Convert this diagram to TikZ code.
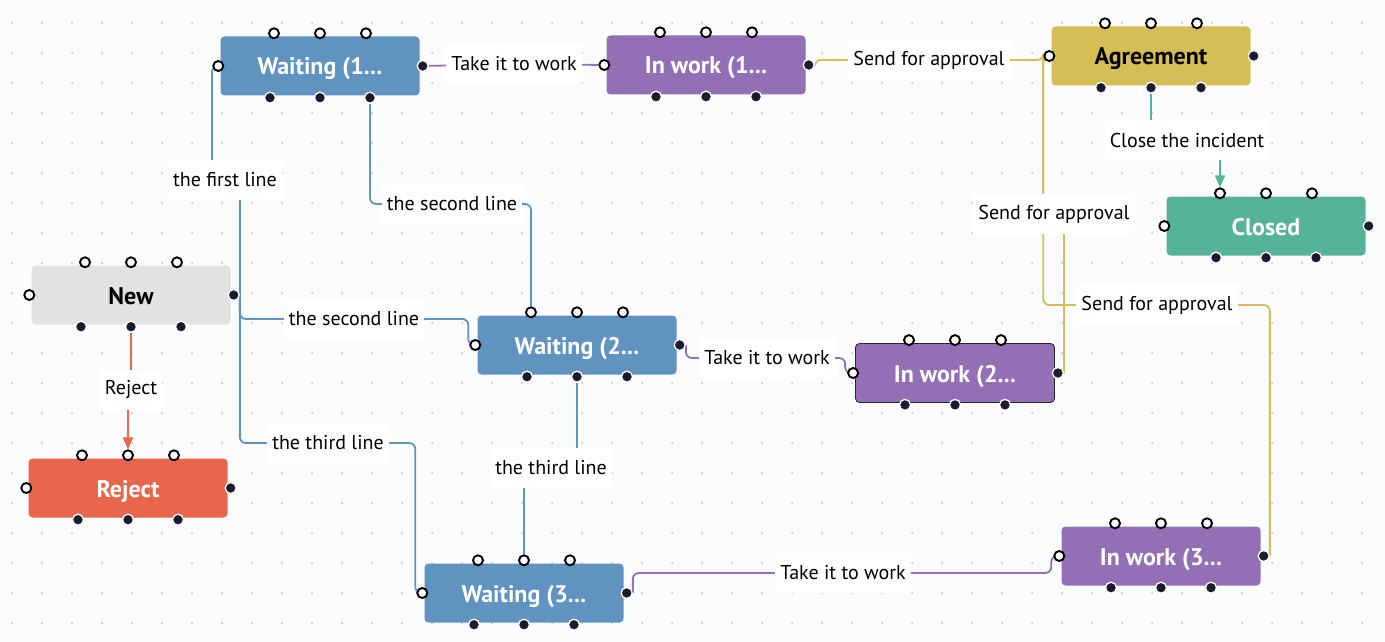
\documentclass[tikz,border=0pt]{standalone}
\usepackage{fontspec}
\setmainfont{PT Sans}
\usetikzlibrary{calc,arrows.meta}

\definecolor{waitblue}{HTML}{6193C0}
\definecolor{workpurple}{HTML}{9370B5}
\definecolor{agreeyellow}{HTML}{D6BD55}
\definecolor{closedgreen}{HTML}{55B399}
\definecolor{rejectred}{HTML}{E8664B}
\definecolor{newgray}{HTML}{E2E2E5}
\definecolor{portdark}{HTML}{1B1B2F}
\definecolor{gridgray}{HTML}{BCC0C6}
\definecolor{canvas}{HTML}{FBFCFE}

\pgfdeclarelayer{bg}
\pgfsetlayers{bg,main}

\tikzset{
  state/.style={rectangle, rounded corners=4pt, minimum width=199pt, minimum height=59pt,
    inner sep=0pt, text height=18pt, text depth=0pt, text=white,
    font=\fontsize{24}{27}\selectfont\bfseries},
  inport/.style={circle, draw=black, fill=white, line width=1.9pt, minimum size=10pt, inner sep=0pt},
  outport/.style={circle, draw=white, fill=portdark, line width=1.3pt, minimum size=11pt, inner sep=0pt},
  tag/.style={fill=white, inner xsep=5pt, inner ysep=0pt, minimum height=40pt,
    font=\fontsize{20}{22}\selectfont, text=black},
  link/.style={line width=1.8pt, rounded corners=6pt},
  arrowend/.style={-{Triangle[length=12pt,width=10pt]}},
}

% state box with its ports: name, centre, style, text
\newcommand{\statebox}[4]{%
  \node[state,#3] (#1) at (#2) {#4};
  \node[inport] (#1-w) at ($(#1.west)+(-2,0)$) {};
  \node[outport] (#1-e) at ($(#1.east)+(3,0)$) {};
  \foreach \d [count=\i] in {-46,0,46}
    \node[inport] (#1-t\i) at ($(#1.north)+(\d,-3)$) {};
  \foreach \d [count=\i] in {-50,0,50}
    \node[outport] (#1-b\i) at ($(#1.south)+(\d,2)$) {};
}

\begin{document}
\begin{tikzpicture}[x=1pt,y=-1pt]
\begin{pgfonlayer}{bg}
\fill[canvas] (0,0) rectangle (1385,642);
\foreach \x in {12,42,...,1372}
  \foreach \y in {23,53,...,623}
    \fill[gridgray] (\x,\y) circle (1);
\end{pgfonlayer}
\useasboundingbox (0,0) rectangle (1385,642);

% states
\statebox{wait1}{320,66}{fill=waitblue}{Waiting (1...}
\statebox{work1}{706,65}{fill=workpurple}{In work (1...}
\statebox{agree}{1151,56}{fill=agreeyellow,text=black}{Agreement}
\statebox{closed}{1266,226}{fill=closedgreen}{Closed}
\statebox{new}{131,295}{fill=newgray,text=black}{New}
\statebox{reject}{128,488}{fill=rejectred}{Reject}
\statebox{wait2}{577,345}{fill=waitblue}{Waiting (2...}
\statebox{work2}{955,373}{fill=workpurple,draw=black!85,line width=0.8pt}{In work (2...}
\statebox{wait3}{524,593}{fill=waitblue}{Waiting (3...}
\statebox{work3}{1161,556}{fill=workpurple}{In work (3...}

% transition labels
\node[tag] (ltake1) at (514,64) {Take it to work};
\node[tag] (lsend1) at (929,60) {Send for approval};
\node[tag] (lclose) at (1187,140) {Close the incident};
\node[tag] (lreject) at (131,390) {Reject};
\node[tag] (lfirst) at (225,180) {the first line};
\node[tag] (lsecond1) at (452,204) {the second line};
\node[tag] (lsecond2) at (354,319) {the second line};
\node[tag] (lthird1) at (328,443) {the third line};
\node[tag] (lthird2) at (551,468) {the third line};
\node[tag] (ltake2) at (767,358) {Take it to work};
\node[tag] (lsend2) at (1054,214) {Send for approval};
\node[tag] (lsend3) at (1157,305) {Send for approval};
\node[tag] (ltake3) at (843,573) {Take it to work};

% transitions
\begin{pgfonlayer}{bg}
\draw[link,waitblue] (new-e.east) |- (lfirst.center) -- ++(-13,0) |- (wait1-w);
\draw[link,waitblue] (new-e.east) |- (lsecond2.center) -| ($(wait2-w)+(-7,0)$) -- (wait2-w);
\draw[link,waitblue] (new-e.east) |- (lthird1.center) -| ($(wait3-w)+(-7,0)$) -- (wait3-w);
\draw[link,waitblue] (wait1-b3) |- (lsecond1.center) -| (wait2-t1);
\draw[link,waitblue] (wait2-b2) |- (lthird2.center) -| (wait3-t2);
\draw[link,workpurple] (wait1-e) -- (ltake1.center) -- (work1-w);
\draw[link,workpurple] (wait2-e.east) |- (ltake2.center) -| ($(work2-w)+(-8,0)$) -- (work2-w);
\draw[link,workpurple] (wait3-e.east) |- (ltake3.center) -| ($(work3-w)+(-8,0)$) -- (work3-w);
\draw[link,agreeyellow] (work1-e.east) |- (lsend1.center) -| ($(agree-w)+(-6,0)$) -- (agree-w);
\draw[link,agreeyellow] (work2-e.east) |- (lsend2.center) -| ($(agree-w)+(-6,0)$) -- (agree-w);
\draw[link,agreeyellow] (work3-e.east) |- (lsend3.center) -| ($(agree-w)+(-6,0)$) -- (agree-w);
\draw[link,closedgreen,arrowend] (agree-b2) |- (lclose.center) -| (closed-t1);
\draw[link,rejectred,arrowend] (new-b2) |- (lreject.center) -| (reject-t2);
\end{pgfonlayer}
\end{tikzpicture}
\end{document}
